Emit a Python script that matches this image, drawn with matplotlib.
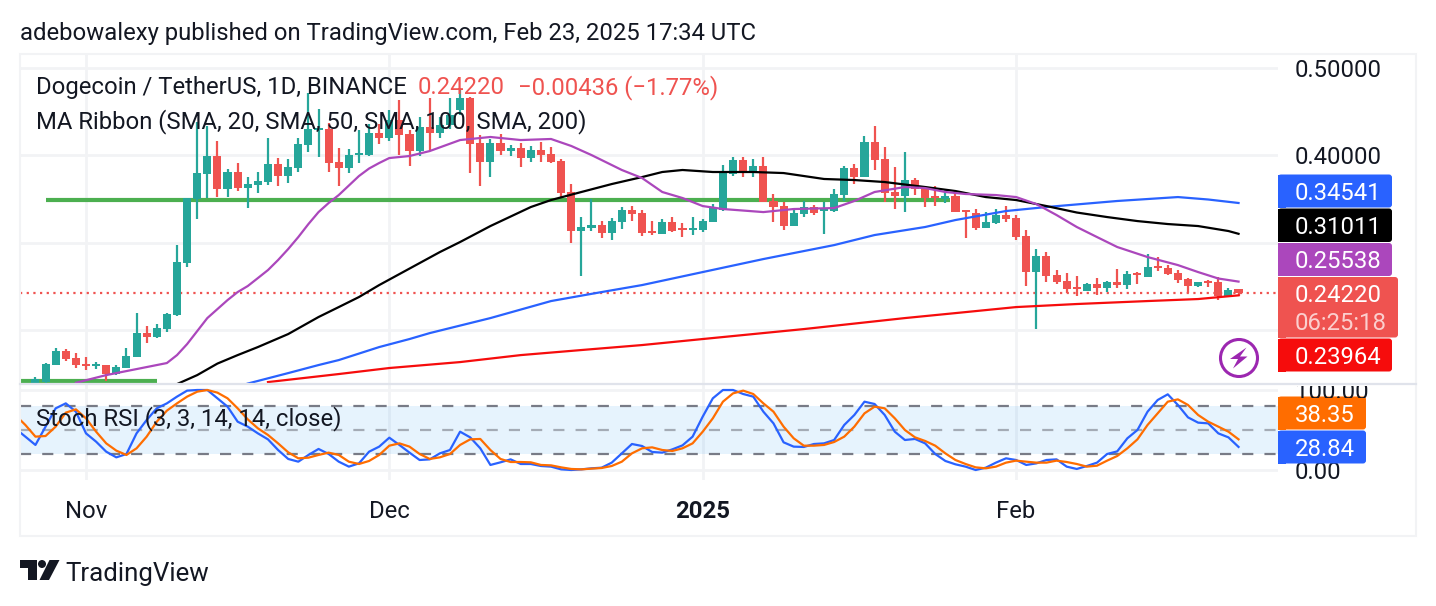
import matplotlib
matplotlib.use("Agg")
import numpy as np
import matplotlib.pyplot as plt
from matplotlib.patches import Rectangle, FancyBboxPatch, Circle, Polygon

W, H = 1436, 606
plt.rcParams['font.family'] = ['Roboto', 'DejaVu Sans']

# days counted from Nov 1, 2024 (Oct 27 .. Feb 23)
days = list(range(-5, 115))
opens = [.1395,.1407,.1598,.1755,.1675,.1609,.1586,.1598,.1495,.1567,.1693,.1961,.1922,.2014,.2171,.2770,.3500,.3786,.3992,.3617,
         .3809,.3629,.3663,.3694,.3900,.3763,.3855,.4118,.4293,.4301,.3923,.3855,.4003,.4003,.4255,.4198,.4404,.4244,.4049,.4324,
         .4255,.4347,.4519,.4656,.4141,.3923,.4141,.4049,.4084,.3969,.4061,.4015,.3935,.3580,.3133,.3167,.3202,.3110,.3236,.3373,
         .3339,.3133,.3098,.3236,.3167,.3144,.3144,.3236,.3373,.3786,.3946,.3809,.3877,.3477,.3419,.3190,.3328,.3408,.3366,.3362,
         .3545,.3855,.3751,.4152,.3958,.3580,.3534,.3717,.3625,.3534,.3500,.3534,.3373,.3339,.3167,.3224,.3316,.3282,.3076,.2663,
         .2846,.2629,.2560,.2491,.2446,.2526,.2480,.2549,.2514,.2652,.2606,.2732,.2709,.2652,.2583,.2503,.2560,.2549,.2377,.2466]
highs = [.1464,.1624,.1789,.1778,.1732,.1686,.1636,.1598,.1598,.1789,.2190,.2045,.2068,.2190,.2973,.3514,.4378,.4336,.4164,.3843,
         .3912,.3751,.3809,.4195,.3969,.3958,.4195,.4710,.4530,.4367,.4080,.4072,.4290,.4359,.4359,.4519,.4634,.4290,.4439,.4656,
         .4439,.4656,.4771,.4671,.4233,.4187,.4244,.4118,.4141,.4107,.4152,.4095,.3958,.3671,.3293,.3500,.3247,.3282,.3408,.3419,
         .3373,.3247,.3270,.3293,.3224,.3293,.3270,.3442,.3889,.3981,.3981,.3958,.3981,.3557,.3465,.3396,.3477,.3431,.3465,.3614,
         .3877,.3900,.4221,.4336,.4095,.3866,.4038,.3740,.3648,.3648,.3614,.3568,.3373,.3385,.3350,.3385,.3419,.3316,.3144,.2927,
         .2892,.2686,.2652,.2617,.2537,.2594,.2560,.2698,.2675,.2663,.2869,.2835,.2743,.2686,.2594,.2549,.2571,.2606,.2480,.2468]
lows = [.1395,.1395,.1598,.1644,.1567,.1541,.1552,.1418,.1483,.1567,.1693,.1853,.1911,.1979,.2163,.2724,.3274,.3514,.3526,.3526,
        .3594,.3400,.3572,.3663,.3648,.3683,.3809,.4038,.3981,.3809,.3648,.3797,.3912,.3992,.4129,.4164,.4003,.3877,.3992,.4061,
        .4198,.4305,.4462,.3797,.3648,.3751,.4003,.3992,.3866,.3923,.3923,.3912,.3511,.2995,.2617,.3133,.3053,.3030,.3156,.3247,
        .3076,.3087,.3098,.3121,.3064,.3087,.3121,.3236,.3362,.3763,.3751,.3751,.3465,.3236,.3144,.3190,.3293,.3316,.3098,.3350,
        .3477,.3671,.3751,.3832,.3465,.3385,.3350,.3545,.3408,.3419,.3454,.3350,.3053,.3144,.3167,.3213,.3236,.3030,.2503,.2010,
        .2549,.2526,.2423,.2388,.2446,.2400,.2434,.2480,.2468,.2526,.2606,.2675,.2629,.2537,.2423,.2491,.2491,.2342,.2377,.2388]
closes = [.1437,.1609,.1755,.1667,.1598,.1586,.1609,.1495,.1575,.1701,.1961,.1922,.2022,.2182,.2778,.3507,.3794,.3992,.3617,.3809,
          .3625,.3671,.3706,.3900,.3763,.3866,.4129,.4301,.4316,.3912,.3855,.4003,.4026,.4255,.4198,.4404,.4233,.4049,.4324,.4255,
          .4347,.4462,.4656,.4129,.3923,.4141,.4049,.4084,.3969,.4061,.4003,.3923,.3568,.3133,.3179,.3202,.3110,.3247,.3373,.3328,
          .3110,.3110,.3236,.3133,.3144,.3167,.3247,.3396,.3797,.3946,.3809,.3877,.3465,.3408,.3190,.3339,.3408,.3339,.3393,.3557,
          .3855,.3751,.4152,.3946,.3568,.3534,.3717,.3614,.3511,.3511,.3534,.3350,.3350,.3167,.3236,.3316,.3270,.3064,.2663,.2846,
          .2617,.2549,.2468,.2468,.2526,.2480,.2549,.2514,.2640,.2629,.2720,.2709,.2640,.2571,.2503,.2549,.2537,.2388,.2457,.2422]

sma20_days = [-1,2,6,8,9,10,11,12,13,14,15,16,17,18,19,20,21,22,23,24,25,27,28,29,30,32,34,37,40,43,46,48,50,53,55,57,59,61,63,67,70,74,76,78,81,83,85,87,90,92,94,96,98,100,102,105,108,110,112,114]
sma20 = [.1395,.1483,.1575,.1621,.1712,.1838,.1987,.2136,.2239,.2342,.2434,.2503,.2594,.2686,.2801,.2927,.3064,.3213,.3350,.3454,.3545,.3763,.3849,.3912,.3969,.3992,.4049,.4175,.4210,.4175,.4187,.4107,.4003,.3832,.3740,.3580,.3511,.3419,.3385,.3350,.3385,.3396,.3477,.3580,.3637,.3625,.3580,.3557,.3545,.3522,.3442,.3316,.3179,.3064,.2950,.2835,.2743,.2663,.2589,.25538]
sma50_days = [9,11,13,15,17,20,23,25,27,29,31,33,35,37,40,44,46,49,52,55,57,59,62,66,69,73,76,79,83,86,89,92,95,98,101,104,107,110,113,114]
sma50 = [.1380,.1483,.1615,.1712,.1804,.1953,.2148,.2262,.2377,.2514,.2640,.2766,.2892,.3007,.3190,.3408,.3488,.3580,.3671,.3751,.3809,.3832,.3809,.3809,.3797,.3729,.3717,.3694,.3637,.3591,.3522,.3488,.3419,.3345,.3293,.3247,.3213,.3190,.3133,.31011]
sma100_days = [16,20,23,25,29,32,34,40,46,51,55,61,67,74,78,83,86,91,95,102,108,111,114]
sma100 = [.1386,.1506,.1598,.1655,.1804,.1896,.1964,.2136,.2331,.2434,.2514,.2663,.2812,.2972,.3087,.3179,.3259,.3362,.3408,.3477,.3522,.3494,.34541]
sma200_days = [18,25,30,37,43,49,55,61,71,81,86,92,98,105,110,114]
sma200 = [.1403,.1495,.1564,.1632,.1712,.1770,.1827,.1896,.2010,.2136,.2193,.2262,.2297,.2331,.2354,.23964]

green_levels = [(.3488, -4, 85.5), (.1411, -7, 7)]

stoch_days = list(range(-7, 115))
stoch_k = [52,41.7,31.3,54.2,77.1,83.3,72.9,45.8,35.4,22.9,15.8,20,45.8,62.5,77.1,83.3,91.7,99.2,100,100,89.6,79.2,60.4,54.2,45.8,38.3,25,13.8,10.4,18.8,26.3,20,10.4,4.2,8.3,22.9,29.2,40.4,31.3,21.7,12.5,13.3,20.8,
           25,47.9,40.8,27.1,6.3,9.6,13.3,7.5,7.5,5,4.2,.8,0,.8,2.1,2.9,9.2,20.8,32.5,30,22.5,21.7,25.8,30.8,41.7,66.7,89.6,100,100,95,91.7,72.9,58.3,34.6,29.2,28.8,32.5,33.3,37.5,
           56.3,68.8,85.4,82.5,68.8,47.9,37.5,38.8,33.3,20,11.3,7.1,4.2,0,2.9,9.2,14.6,12.5,6.3,8.3,12.5,13.3,4.2,1.3,5,9.2,20,23.3,39.6,50,72.9,87.5,94.6,81.3,65.8,59.2,58.3,45.8,40.8,28.84]
stoch_d = [68.8,56.3,41.7,42.5,54.2,71.7,75.8,64.6,47.9,33.3,24.2,18.8,27.1,41.7,60.4,74.2,83.3,91.7,97.9,100,96.7,89.6,77.1,63.3,52.1,43.8,33.3,22.1,14.6,15.4,18.8,21.7,18.8,10.4,7.5,11.3,18.8,30.4,33.3,29.2,20,13.8,15.8,
           20,31.3,38.3,38.8,25,13.8,10,10,9.6,6.3,5.8,3.3,1.3,.8,1.7,2.5,5,10.4,20.8,27.1,28.3,25,23.8,27.1,33.3,47.9,64.6,85.4,95.8,99.2,95,83.3,72.9,54.2,39.6,30.4,30.4,31.3,35,
           41.7,54.2,70.8,79.2,77.1,64.6,50,40.8,36.3,30.4,20.8,12.5,7.5,3.3,2.1,4.2,9.2,11.7,10.4,9.2,9.2,11.7,10,7.5,4.2,5.4,11.7,17.5,27.1,38.3,56.3,70.8,85.4,88.3,81.3,68.8,60.4,54.2,47.9,38.35]

month_ticks = [0, 30, 61, 92]
month_labels = ['Nov', 'Dec', '2025', 'Feb']
price_ticks = [.2, .3, .4, .5]
price_labels = ['', '', '0.40000', '0.50000']

# colours
UP = '#26a69a'
DOWN = '#ef5350'
GRID = '#f2f3f5'
INK = '#131722'
SANS = ['Roboto', 'DejaVu Sans']
FONT = 17.2


def pane(x0, y0, x1, y1):
    return fig.add_axes([x0 / W, 1 - y1 / H, (x1 - x0) / W, (y1 - y0) / H])


fig = plt.figure(figsize=(W / 100, H / 100), dpi=100)
fig.patch.set_facecolor('white')

PX = 10.11
xlim = ((20 - 86) / PX, (1278 - 86) / PX)

# main pane
ax = pane(20, 55, 1278, 384)
ax.set_xlim(xlim)
ax.set_ylim(.1381, .5149)
ax.set_xticks(month_ticks)
ax.set_xticklabels([])
ax.set_yticks(price_ticks)
ax.set_yticklabels(price_labels)
ax.yaxis.tick_right()
ax.tick_params(length=0, labelsize=FONT, labelcolor=INK, pad=12.2)
ax.grid(True, color=GRID, lw=2)
ax.set_axisbelow(True)
for s in ax.spines.values():
    s.set_visible(False)

for level, a, b in green_levels:
    ax.hlines(level, a, b, color='#4caf50', lw=3, zorder=2)
ax.axhline(closes[-1], color=DOWN, lw=1.6, ls=(0, (1, 2)), zorder=2)

for d, o, h, l, c in zip(days, opens, highs, lows, closes):
    col = UP if c >= o else DOWN
    ax.vlines(d, l, h, color=col, lw=1.6, zorder=3)
    ax.bar(d, abs(c - o), bottom=min(o, c), width=0.8, color=col, zorder=3)

ax.plot(sma200_days, sma200, color='#f60c0c', lw=1.6, zorder=4)
ax.plot(sma100_days, sma100, color='#2962ff', lw=1.6, zorder=4)
ax.plot(sma50_days, sma50, color='#000000', lw=1.6, zorder=4)
ax.plot(sma20_days, sma20, color='#ab47bc', lw=1.6, zorder=4)

# stoch rsi pane
ax2 = pane(20, 385, 1278, 480)
ax2.set_xlim(xlim)
ax2.set_ylim(-12.5, 106.25)
ax2.set_xticks(month_ticks)
ax2.set_xticklabels(month_labels)
ax2.get_xticklabels()[2].set_fontweight('bold')
ax2.set_yticks([0, 100])
ax2.set_yticklabels(['0.00', ''])
ax2.yaxis.tick_right()
ax2.tick_params(axis='y', length=0, labelsize=FONT, labelcolor=INK, pad=12.2)
ax2.tick_params(axis='x', length=0, labelsize=FONT, labelcolor=INK, pad=14.2)
ax2.grid(True, color=GRID, lw=2)
ax2.set_axisbelow(True)
for s in ax2.spines.values():
    s.set_visible(False)

ax2.axhspan(20, 80, color='#2196f3', alpha=.11, lw=0, zorder=1)
ax2.axhline(80, color='#787b86', lw=1.6, ls=(0, (5, 5)), zorder=2)
ax2.axhline(50, color='#787b86', lw=1.6, ls=(0, (5, 5)), alpha=.6, zorder=2)
ax2.axhline(20, color='#787b86', lw=1.6, ls=(0, (5, 5)), zorder=2)
ax2.plot(stoch_days, stoch_k, color='#2962ff', lw=1.6, zorder=3)
ax2.plot(stoch_days, stoch_d, color='#ff6d00', lw=1.6, zorder=3)

# overlay in picture pixels for the frame, texts, tags and logos
ov = fig.add_axes([0, 0, 1, 1])
ov.set_xlim(0, W)
ov.set_ylim(H, 0)
ov.axis('off')
ov.patch.set_alpha(0)

ov.add_patch(Rectangle((20, 54), 1396, 482, fc='none', ec=GRID, lw=1.5))
ov.plot([20, 1416], [384, 384], color='#e0e3eb', lw=1.6)


def label(x, y, s, color=INK, size=FONT, **kw):
    return ov.text(x, y, s, color=color, fontsize=size, va='center_baseline', family=SANS, **kw)


def tag(y0, y1, x1, col, txt, x_txt=1295):
    ov.add_patch(FancyBboxPatch((1278, y0 + .5), x1 - 1278, y1 - y0 - 1, boxstyle='round,pad=0,rounding_size=3', fc=col, ec='none'))
    ov.add_patch(Rectangle((1278, y0 + .5), 8, y1 - y0 - 1, fc=col, ec='none'))
    label(x_txt, (y0 + y1) / 2, txt, color='white')


label(20, 31, 'adebowalexy published on TradingView.com, Feb 23, 2025 17:34 UTC')
label(36, 85, 'Dogecoin / TetherUS, 1D, BINANCE')
label(418, 85, '0.24220', color=DOWN)
label(518, 85, '\u22120.00436 (\u22121.77%)', color=DOWN)
label(36, 118.5, 'MA Ribbon (SMA, 20, SMA, 50, SMA, 100, SMA, 200)')
label(36, 415.5, 'Stoch RSI (3, 3, 14, 14, close)')

tag(174, 208, 1392, '#2962ff', '0.34541')
tag(208, 242.5, 1392, '#000000', '0.31011')
tag(242.5, 276.5, 1392, '#ab47bc', '0.25538')
tag(276.5, 338, 1398, DOWN, '0.24220')
ov.texts[-1].set_y(293)
label(1295, 321, '06:25:18', color='#fbcfce')
tag(338, 372, 1392, '#f60c0c', '0.23964')
tag(396, 430, 1366, '#ff6d00', '38.35')
tag(430, 464, 1366, '#2962ff', '28.84')

hundred = label(1295, 390, '100.00')
hundred.set_clip_on(True)
hundred.set_clip_path(Rectangle((1278, 385.5), 130, 12, transform=ov.transData))

# lightning badge
ov.add_patch(Circle((1239, 358), 18.5, fc='white', ec='#9c27b0', lw=2.2))
ov.add_patch(Polygon([(1246.5, 347.5), (1230, 359), (1238, 359), (1233, 368.5), (1247.5, 356.5), (1240, 356.5)], fc='#9c27b0', ec='none'))

# TradingView mark
ov.add_patch(Polygon([(20, 560), (37, 560), (37, 580), (28, 580), (28, 568), (20, 568)], fc=INK, ec='none'))
ov.add_patch(Circle((42, 564), 4, fc=INK, ec='none'))
ov.add_patch(Polygon([(49.5, 560), (59.5, 560), (49, 580), (39.5, 580)], fc=INK, ec='none'))
label(65, 572, 'TradingView', size=18.6)

fig.savefig('out.png', dpi=100)
